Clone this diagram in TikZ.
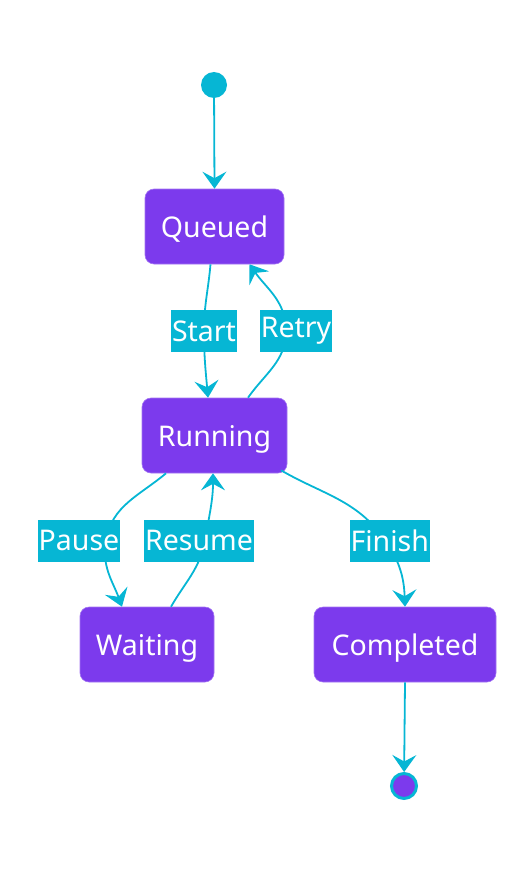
\documentclass[tikz,border=0pt]{standalone}
\usepackage{fontspec}
\setmainfont{Noto Sans}
\usetikzlibrary{arrows.meta}
\definecolor{vio}{HTML}{7C3AED}
\definecolor{cya}{HTML}{06B6D4}
\begin{document}
\begin{tikzpicture}[x=1pt,y=1pt,
  state/.style={fill=vio,draw=vio!70!white,line width=0.6pt,rounded corners=9pt,text=white,minimum height=75pt,inner sep=0pt,text depth=0pt,font=\fontsize{28.5}{30}\selectfont},
  lbl/.style={fill=cya,text=white,inner xsep=1pt,inner ysep=0pt,minimum height=42pt,font=\fontsize{28.5}{30}\selectfont},
  edge/.style={draw=cya,line width=1.8pt,-{Stealth[length=17pt,width=24pt,inset=6.5pt]}}]
\useasboundingbox (0,0) rectangle (532,-872);
% states
\node[circle,fill=cya,minimum size=26pt,inner sep=0pt] (s0) at (214,-85) {};
\node[state,minimum width=139pt] (q) at (214.5,-226.5) {Queued};
\node[state,minimum width=145pt] (r) at (214.5,-435.5) {Running};
\node[state,minimum width=134pt] (w) at (147,-644.5) {Waiting};
\node[state,minimum width=182pt] (c) at (405,-644.5) {Completed};
\node[circle,fill=vio,draw=cya,line width=3pt,minimum size=25pt,inner sep=0pt] (e) at (404,-786) {};
% waypoints
\coordinate (pS) at (204,-331);
\coordinate (pR) at (286,-331);
\coordinate (pP) at (106,-540);
\coordinate (pRs) at (205,-540);
\coordinate (pF) at (385,-540);
% edges
\draw[edge] (s0) -- (q.north);
\draw[edge] ([xshift=-4pt]q.south) to[out=-95,in=90] (pS) to[out=-90,in=95] ([xshift=-6.5pt]r.north);
\draw[edge] ([xshift=33.5pt]r.north) to[out=55,in=-90] (pR) to[out=90,in=-55] ([xshift=35pt]q.south);
\draw[edge] ([xshift=-48.5pt]r.south) to[out=-140,in=80] (pP) to[out=-100,in=110] ([xshift=-25pt]w.north);
\draw[edge] ([xshift=24pt]w.north) to[out=60,in=-100] (pRs) to[out=80,in=-90] ([xshift=-1.5pt]r.south);
\draw[edge] ([xshift=66.5pt,yshift=3pt]r.south) to[out=-30,in=125] (pF) to[out=-55,in=92] (c.north);
\draw[edge] (c.south) -- (e);
% labels
\node[lbl] (lS) at (204,-331) {Start};
\node[lbl] (lR) at (296,-331) {Retry};
\node[lbl] (lP) at (79,-540.5) {Pause};
\node[lbl] (lRs) at (199,-540.5) {Resume};
\node[lbl] (lF) at (389.7,-540.5) {Finish};
\end{tikzpicture}
\end{document}
